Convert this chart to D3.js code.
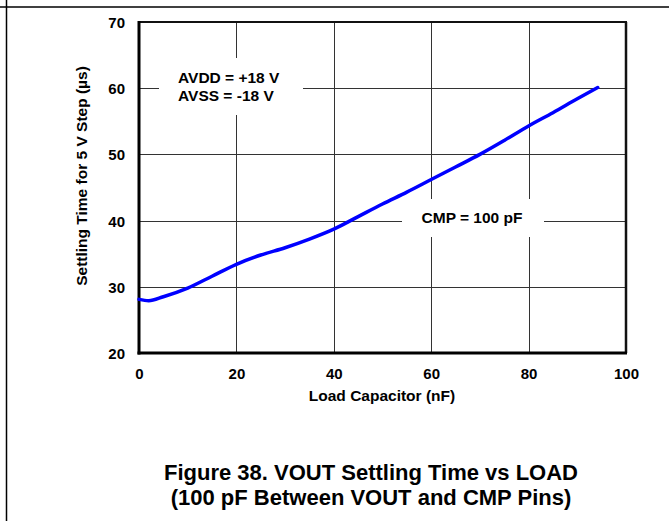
<!DOCTYPE html>
<html>
<head>
<meta charset="utf-8">
<script src="https://cdn.jsdelivr.net/npm/d3@7"></script>
<style>
  html, body { margin: 0; padding: 0; background: #fff; }
  svg { display: block; }
  text { font-family: "Liberation Sans", Arial, sans-serif; font-weight: bold; fill: #000; }
</style>
</head>
<body>
<svg id="chart" width="669" height="521"></svg>
<script>
// ---- data ----
const loadNF = [0, 2, 5, 10, 15, 20, 25, 30, 35, 40, 45, 50, 55, 60, 65, 70, 75, 80, 85, 90, 94.2];
const settlingUs = [28.1, 27.9, 28.5, 29.8, 31.6, 33.4, 34.8, 35.9, 37.2, 38.7, 40.6, 42.5, 44.3, 46.2, 48.1, 50.0, 52.1, 54.3, 56.3, 58.4, 60.1];
const xTicks = [0, 20, 40, 60, 80, 100];
const yTicks = [20, 30, 40, 50, 60, 70];
const xTitle = "Load Capacitor (nF)";
const yTitle = "Settling Time for 5 V Step (µs)";
const noteSupply = ["AVDD = +18 V", "AVSS = -18 V"];
const noteCmp = "CMP = 100 pF";
const caption = ["Figure 38. VOUT Settling Time vs LOAD", "(100 pF Between VOUT and CMP Pins)"];

// ---- layout ----
const L = 139, R = 626, T = 22, B = 353;
const svg = d3.select("#chart");
const x = d3.scaleLinear().domain([0, 100]).range([L, R]);
const y = d3.scaleLinear().domain([20, 70]).range([B, T]);

// page frame lines
svg.append("line").attr("x1", 0).attr("x2", 669).attr("y1", 7).attr("y2", 7)
  .attr("stroke", "#000").attr("stroke-width", 1.5);
svg.append("line").attr("x1", 6.5).attr("x2", 6.5).attr("y1", 0).attr("y2", 521)
  .attr("stroke", "#000").attr("stroke-width", 1.5);

// grid
const grid = svg.append("g").attr("stroke", "#333").attr("stroke-width", 1);
grid.selectAll("line.v").data(xTicks.slice(1, -1)).join("line")
  .attr("x1", d => Math.round(x(d)) + 0.5).attr("x2", d => Math.round(x(d)) + 0.5)
  .attr("y1", T).attr("y2", B);
grid.selectAll("line.h").data(yTicks.slice(1, -1)).join("line")
  .attr("y1", d => Math.round(y(d)) + 0.5).attr("y2", d => Math.round(y(d)) + 0.5)
  .attr("x1", L).attr("x2", R);

// annotation backgrounds (break the grid)
svg.append("rect").attr("x", 159).attr("y", 58).attr("width", 144).attr("height", 57).attr("fill", "#fff");
svg.append("rect").attr("x", 402).attr("y", 199).attr("width", 142).attr("height", 38).attr("fill", "#fff");

// plot border
svg.append("line").attr("x1", L).attr("x2", R + 1).attr("y1", T).attr("y2", T).attr("stroke", "#111").attr("stroke-width", 2);
svg.append("line").attr("x1", R).attr("x2", R).attr("y1", T).attr("y2", B).attr("stroke", "#111").attr("stroke-width", 2.5);
svg.append("line").attr("x1", L).attr("x2", L).attr("y1", T - 1).attr("y2", B + 1.5).attr("stroke", "#000").attr("stroke-width", 3);
svg.append("line").attr("x1", L - 1.5).attr("x2", R + 1).attr("y1", B).attr("y2", B).attr("stroke", "#000").attr("stroke-width", 3);

// axes (labels only)
const xAxis = d3.axisBottom(x).tickValues(xTicks).tickSize(0).tickPadding(0).tickFormat(d3.format("d"));
const gx = svg.append("g").attr("transform", `translate(0,${B})`).call(xAxis);
gx.select(".domain").remove();
gx.selectAll("text").attr("dy", null).attr("y", 26).style("font-size", "15px")
  .style("font-family", '"Liberation Sans", Arial, sans-serif').style("font-weight", "bold").attr("fill", "#000");

const yAxis = d3.axisLeft(y).tickValues(yTicks).tickSize(0).tickPadding(0).tickFormat(d3.format("d"));
const gy = svg.append("g").attr("transform", `translate(${L - 14},0)`).call(yAxis);
gy.select(".domain").remove();
gy.selectAll("text").attr("dy", "0.36em").style("font-size", "15px")
  .style("font-family", '"Liberation Sans", Arial, sans-serif').style("font-weight", "bold").attr("fill", "#000");

// axis titles
svg.append("text").attr("x", 382).attr("y", 401).attr("text-anchor", "middle")
  .style("font-size", "15.5px").text(xTitle);
svg.append("text").attr("transform", "translate(87,176) rotate(-90)").attr("text-anchor", "middle")
  .style("font-size", "15.5px").text(yTitle);

// annotations
svg.append("g").selectAll("text").data(noteSupply).join("text")
  .attr("x", 178).attr("y", (d, i) => 83 + i * 18).style("font-size", "15.5px").text(d => d);
svg.append("text").attr("x", 472).attr("y", 223).attr("text-anchor", "middle")
  .style("font-size", "15.5px").text(noteCmp);

// curve
const pts = loadNF.map((v, i) => [v, settlingUs[i]]);
svg.append("path").datum(pts)
  .attr("fill", "none").attr("stroke", "#0000ff").attr("stroke-width", 3.5)
  .attr("stroke-linecap", "round").attr("stroke-linejoin", "round")
  .attr("d", d3.line().x(d => x(d[0])).y(d => y(d[1])).curve(d3.curveMonotoneX));

// caption
svg.append("g").selectAll("text").data(caption).join("text")
  .attr("x", 371).attr("y", (d, i) => 480 + i * 25).attr("text-anchor", "middle")
  .style("font-size", "22px").text(d => d);
</script>
</body>
</html>
